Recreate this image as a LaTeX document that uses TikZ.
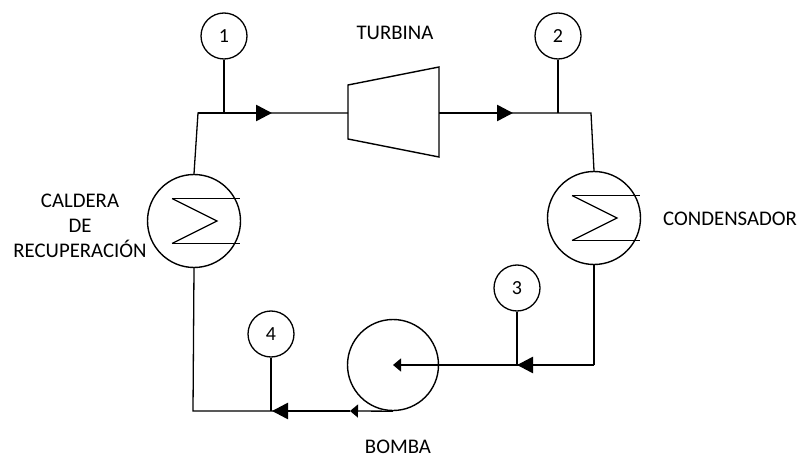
\documentclass[tikz,border=0pt]{standalone}
\usepackage{fontspec}
\setmainfont{Carlito}
\usetikzlibrary{arrows.meta}
\begin{document}
\begin{tikzpicture}[x=1pt,y=-1pt,
  pipe/.style={line width=1.3pt},
  flow/.style={line width=2.6pt,-{Triangle[length=16pt,width=16pt]}},
  smallflow/.style={line width=1.3pt,-{Triangle[length=8pt,width=13pt]}},
  tag/.style={circle,draw,line width=1.3pt,minimum size=46pt,inner sep=0pt,font=\fontsize{20}{24}\selectfont},
  hx/.style={circle,draw,line width=1.4pt,minimum size=93pt,inner sep=0pt},
  lbl/.style={inner sep=0pt,font=\fontsize{20.8}{25}\selectfont}]
\useasboundingbox (0,0) rectangle (803,457);

% equipment
\node[hx] (cal) at (194,221) {};
\node[hx] (cond) at (594,218) {};
\node[hx,minimum size=91pt] (pump) at (393,365) {};
\draw[pipe,line width=1.4pt] (348,85) -- (439,67) -- (439,157) -- (348,139) -- cycle;
\coordinate (tin) at (348,113);
\coordinate (tout) at (439,113);

% heat exchanger coils
\foreach \n in {cal,cond}{
  \draw[pipe] ([shift={(-22,-22.5)}]\n.center) -- ([shift={(46,-22.5)}]\n.center);
  \draw[pipe] ([shift={(-22,22.5)}]\n.center) -- ([shift={(46,22.5)}]\n.center);
  \draw[pipe] ([shift={(-22,-22.5)}]\n.center) -- ([shift={(23,0)}]\n.center) -- ([shift={(-22,22.5)}]\n.center);
}

% state tags
\node[tag] (s1) at (224,36) {1};
\node[tag] (s2) at (558,36) {2};
\node[tag] (s3) at (517,288) {3};
\node[tag] (s4) at (271,334) {4};

% corners and junctions
\coordinate (c1) at (198,113);
\coordinate (c2) at (591,113);
\coordinate (c3) at (594,365);
\coordinate (c4) at (193,411);
\coordinate (a1) at (272,113);
\coordinate (a2) at (513,113);
\coordinate (a4) at (350,411);

% thin pipes
\draw[pipe] (cal.north) -- (c1) -- (tin);
\draw[pipe] (tout) -- (c2) -- (cond.north);
\draw[pipe] (cond.south) -- (c3);
\draw[smallflow] (c3) -- (pump.center);
\draw[smallflow] (pump.south) -- (a4);
\draw[pipe] (a4) -- (c4) -- (cal.south);

% stems
\draw[pipe] (s1.south) -- (s1.south |- c1);
\draw[pipe] (s2.south) -- (s2.south |- c2);
\draw[pipe] (s3.south) -- (s3.south |- c3);
\draw[pipe] (s4.south) -- (s4.south |- c4);

% flow arrows
\draw[flow] (c1) -- (a1);
\draw[flow] (tout) -- (a2);
\draw[flow] (c3) -- (s3.south |- c3);
\draw[flow] (a4) -- ([xshift=1pt]s4.south |- c4);

% labels
\node[lbl] (lt) at (395,33) {TURBINA};
\node[lbl,anchor=west] (lc) at (663,219) {CONDENSADOR};
\node[lbl,align=center] (lk) at (80,226) {CALDERA\\DE\\RECUPERACIÓN};
\node[lbl] (lb) at (398,447) {BOMBA};
\end{tikzpicture}
\end{document}
